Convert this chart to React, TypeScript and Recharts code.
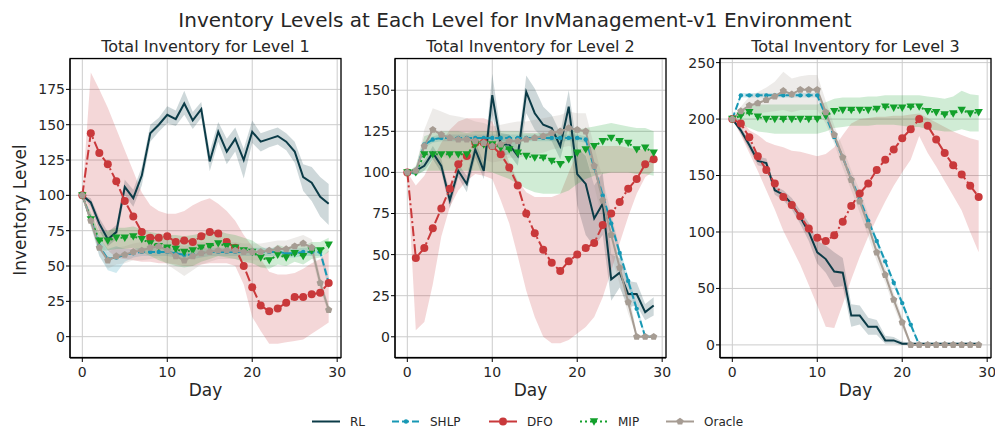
import { ComposedChart, Line, Area, XAxis, YAxis, CartesianGrid } from 'recharts';

const days = [0, 1, 2, 3, 4, 5, 6, 7, 8, 9, 10, 11, 12, 13, 14, 15, 16, 17, 18, 19, 20, 21, 22, 23, 24, 25, 26, 27, 28, 29];
const xTicks = [0, 10, 20, 30];

// Level 1
const rl1 = [100, 95, 80, 69, 74, 106, 98, 114, 144, 150, 157, 154, 165, 153, 161, 124, 145, 131, 140, 125, 145, 138, 140, 142, 138, 131, 113, 109, 99, 94];
const rl1Lo = [100, 92, 75, 64, 69, 100, 92, 107, 138, 145, 151, 149, 157, 147, 155, 117, 138, 122, 131, 112, 137, 131, 134, 136, 132, 123, 103, 96, 85, 79];
const rl1Hi = [100, 98, 84, 74, 79, 111, 104, 120, 150, 155, 163, 160, 174, 159, 166, 131, 152, 140, 148, 133, 153, 144, 146, 148, 144, 138, 122, 120, 113, 108];
const shlp1 = [100, 83, 64, 55, 56, 58, 59, 60, 60, 60, 60, 59, 58, 58, 59, 60, 60, 60, 60, 60, 60, 60, 60, 60, 59, 59, 60, 60, 60, 38];
const shlp1Lo = [100, 80, 57, 47, 45, 53, 56, 57, 57, 57, 57, 56, 55, 55, 56, 57, 57, 57, 57, 57, 57, 57, 57, 57, 56, 56, 57, 57, 57, 34];
const shlp1Hi = [100, 86, 70, 62, 64, 62, 62, 63, 63, 63, 63, 62, 61, 61, 62, 63, 63, 63, 63, 63, 63, 63, 63, 63, 62, 62, 63, 63, 63, 42];
const dfo1 = [100, 144, 130, 122, 110, 96, 85, 74, 70, 70, 71, 67, 68, 67, 71, 74, 73, 67, 63, 50, 35, 22, 18, 20, 24, 28, 28, 30, 31, 38];
const dfo1Lo = [100, 80, 70, 61, 56, 55, 54, 53, 53, 52, 52, 51, 50, 50, 51, 52, 52, 52, 50, 37, 14, 4, -5, -5, -4, -3, -2, 2, 6, 10];
const dfo1Hi = [100, 187, 175, 162, 147, 132, 117, 102, 93, 89, 87, 87, 89, 93, 96, 98, 94, 89, 82, 72, 64, 55, 46, 44, 44, 45, 48, 52, 55, 61];
const mip1 = [100, 83, 68, 68, 70, 70, 71, 69, 66, 64, 63, 62, 60, 61, 63, 64, 66, 64, 63, 61, 60, 56, 54, 58, 56, 59, 57, 61, 61, 65];
const mip1Lo = [100, 78, 61, 61, 62, 62, 63, 60, 57, 54, 52, 50, 49, 50, 53, 55, 57, 56, 55, 53, 52, 49, 48, 51, 50, 53, 51, 55, 56, 60];
const mip1Hi = [100, 88, 74, 75, 77, 77, 78, 76, 74, 73, 72, 72, 71, 72, 73, 74, 75, 73, 72, 70, 68, 64, 61, 65, 63, 65, 64, 67, 67, 70];
const oracle1 = [100, 82, 63, 54, 57, 58, 60, 61, 63, 64, 61, 57, 54, 57, 59, 60, 61, 61, 61, 60, 60, 60, 61, 62, 62, 64, 66, 63, 38, 19];
const oracle1Lo = [100, 78, 57, 48, 51, 52, 54, 54, 55, 56, 51, 47, 43, 47, 51, 53, 55, 55, 55, 54, 54, 54, 55, 56, 56, 58, 60, 57, 33, 16];
const oracle1Hi = [100, 86, 69, 60, 63, 64, 66, 67, 70, 71, 69, 66, 64, 66, 67, 67, 67, 67, 67, 66, 66, 66, 67, 68, 68, 70, 72, 69, 43, 22];

// Level 2
const rl2 = [100, 101, 104, 112, 104, 83, 101, 93, 114, 101, 147, 117, 117, 110, 149, 136, 129, 127, 116, 140, 99, 93, 72, 81, 35, 39, 26, 26, 15, 19];
const rl2Lo = [100, 99, 101, 108, 100, 78, 97, 88, 109, 96, 135, 110, 111, 104, 136, 126, 121, 119, 108, 128, 80, 62, 55, 62, 22, 30, 18, 19, 10, 13];
const rl2Hi = [100, 103, 107, 116, 108, 88, 105, 98, 119, 106, 160, 124, 123, 116, 159, 151, 140, 135, 124, 150, 115, 110, 92, 100, 50, 48, 34, 33, 20, 24];
const shlp2 = [100, 100, 117, 120, 121, 121, 121, 121, 121, 121, 121, 121, 121, 121, 121, 121, 121, 121, 121, 121, 121, 120, 103, 86, 69, 51, 34, 17, 0, 0];
const shlp2Lo = [100, 98, 115, 118, 119, 119, 119, 119, 119, 119, 119, 119, 119, 119, 119, 119, 119, 119, 119, 119, 119, 118, 100, 83, 66, 48, 31, 14, 0, 0];
const shlp2Hi = [100, 102, 119, 122, 123, 123, 123, 123, 123, 123, 123, 123, 123, 123, 123, 123, 123, 123, 123, 123, 123, 122, 106, 89, 72, 54, 37, 20, 2, 0];
const dfo2 = [100, 48, 54, 66, 78, 90, 105, 110, 118, 118, 116, 111, 103, 92, 75, 63, 53, 45, 40, 46, 50, 54, 57, 68, 75, 82, 90, 96, 105, 108];
const dfo2Lo = [100, 4, 9, 32, 61, 79, 89, 95, 99, 98, 96, 83, 69, 49, 28, 12, 0, -4, -4, -2, 2, 6, 12, 24, 40, 57, 73, 87, 97, 101];
const dfo2Hi = [100, 92, 98, 108, 118, 126, 131, 133, 133, 133, 131, 120, 106, 95, 88, 85, 85, 85, 87, 100, 112, 115, 116, 116, 116, 116, 115, 114, 114, 113];
const mip2 = [100, 100, 111, 111, 111, 111, 111, 111, 117, 117, 117, 115, 114, 112, 110, 109, 109, 107, 105, 108, 112, 114, 116, 119, 121, 119, 118, 114, 115, 112];
const mip2Lo = [100, 98, 101, 101, 101, 101, 101, 101, 101, 101, 100, 98, 96, 93, 90, 88, 87, 87, 87, 89, 93, 96, 98, 99, 100, 100, 100, 99, 99, 98];
const mip2Hi = [100, 104, 122, 124, 125, 125, 125, 124, 125, 125, 125, 125, 125, 125, 124, 124, 124, 124, 124, 125, 126, 127, 128, 129, 130, 129, 128, 127, 127, 125];
const oracle2 = [100, 101, 116, 126, 123, 121, 120, 120, 119, 118, 116, 117, 119, 119, 120, 121, 122, 124, 125, 127, 126, 125, 104, 83, 62, 42, 21, 0, 0, 0];
const oracle2Lo = [100, 99, 106, 112, 110, 108, 107, 107, 108, 108, 106, 107, 109, 109, 110, 111, 112, 114, 115, 116, 115, 112, 92, 70, 50, 32, 14, 0, 0, 0];
const oracle2Hi = [100, 103, 126, 139, 137, 135, 134, 133, 131, 130, 128, 129, 130, 131, 131, 132, 133, 134, 135, 137, 136, 136, 116, 96, 75, 54, 30, 2, 0, 0];

// Level 3
const rl3 = [200, 190, 177, 163, 161, 137, 133, 125, 113, 100, 82, 76, 65, 64, 26, 26, 16, 16, 4, 4, 1, 1, 1, 1, 1, 1, 1, 1, 1, 1];
const rl3Lo = [200, 187, 173, 159, 157, 133, 128, 120, 107, 92, 72, 64, 51, 52, 16, 18, 9, 9, 1, 1, 0, 0, 0, 0, 0, 0, 0, 0, 0, 0];
const rl3Hi = [200, 193, 181, 167, 165, 141, 137, 130, 119, 108, 92, 88, 82, 77, 36, 35, 24, 22, 8, 7, 3, 2, 2, 2, 2, 2, 2, 2, 2, 2];
const shlp3 = [200, 221, 221, 221, 221, 221, 221, 221, 221, 221, 221, 203, 184, 166, 147, 129, 110, 92, 74, 55, 37, 18, 0, 0, 0, 0, 0, 0, 0, 0];
const shlp3Lo = [200, 219, 219, 219, 219, 219, 219, 219, 219, 219, 219, 200, 181, 163, 144, 126, 107, 89, 71, 52, 34, 15, 0, 0, 0, 0, 0, 0, 0, 0];
const shlp3Hi = [200, 223, 223, 223, 223, 223, 223, 223, 223, 223, 223, 206, 187, 169, 150, 132, 113, 95, 77, 58, 40, 21, 2, 1, 1, 1, 1, 1, 1, 1];
const dfo3 = [200, 196, 184, 167, 155, 143, 131, 124, 114, 103, 95, 92, 97, 109, 123, 134, 143, 155, 164, 173, 183, 191, 200, 194, 182, 170, 159, 151, 141, 131];
const dfo3Lo = [200, 186, 170, 154, 137, 120, 101, 86, 71, 53, 35, 16, 15, 36, 58, 78, 96, 112, 127, 141, 153, 164, 185, 170, 158, 145, 132, 119, 100, 82];
const dfo3Hi = [200, 200, 190, 186, 180, 177, 175, 172, 171, 169, 167, 169, 175, 186, 196, 200, 201, 202, 202, 203, 203, 204, 205, 201, 197, 193, 189, 186, 183, 181];
const mip3 = [200, 203, 206, 202, 200, 200, 200, 200, 200, 200, 200, 203, 207, 208, 208, 208, 208, 209, 211, 210, 210, 211, 211, 207, 206, 204, 205, 208, 205, 206];
const mip3Lo = [200, 195, 192, 189, 188, 187, 187, 187, 187, 187, 187, 189, 192, 193, 194, 194, 194, 195, 195, 195, 194, 193, 193, 191, 190, 189, 189, 191, 189, 189];
const mip3Hi = [200, 207, 212, 213, 213, 213, 213, 213, 213, 213, 213, 215, 218, 219, 219, 219, 220, 220, 221, 221, 221, 221, 221, 220, 219, 218, 220, 225, 222, 221];
const oracle3 = [200, 207, 212, 214, 217, 220, 225, 222, 226, 226, 226, 206, 186, 166, 146, 127, 106, 82, 62, 40, 20, 0, 0, 0, 0, 0, 0, 0, 0, 0];
const oracle3Lo = [200, 203, 204, 205, 206, 207, 208, 206, 208, 208, 208, 196, 178, 157, 137, 117, 96, 74, 55, 34, 15, 0, 0, 0, 0, 0, 0, 0, 0, 0];
const oracle3Hi = [200, 211, 220, 224, 228, 233, 242, 236, 238, 239, 239, 216, 194, 175, 155, 137, 116, 90, 69, 46, 25, 1, 0, 0, 0, 0, 0, 0, 0, 0];

const SERIES = [
  { key: 'rl', name: 'RL', color: '#0b3b47', dash: undefined, marker: 'none' },
  { key: 'shlp', name: 'SHLP', color: '#1798b4', dash: '7 3', marker: 'dot' },
  { key: 'dfo', name: 'DFO', color: '#c9393b', dash: '10 3 2 3', marker: 'circle' },
  { key: 'mip', name: 'MIP', color: '#12a02b', dash: '2 3', marker: 'tri' },
  { key: 'oracle', name: 'Oracle', color: '#a69c93', dash: undefined, marker: 'pent' },
];

type Trio = [number[], number[], number[]];

const PANELS: { title: string; left: number; domain: [number, number]; ticks: number[]; s: Record<string, Trio> }[] = [
  {
    title: 'Total Inventory for Level 1',
    left: 70,
    domain: [-15.1, 196.5],
    ticks: [0, 25, 50, 75, 100, 125, 150, 175],
    s: {
      rl: [rl1, rl1Lo, rl1Hi], shlp: [shlp1, shlp1Lo, shlp1Hi], dfo: [dfo1, dfo1Lo, dfo1Hi],
      mip: [mip1, mip1Lo, mip1Hi], oracle: [oracle1, oracle1Lo, oracle1Hi],
    },
  },
  {
    title: 'Total Inventory for Level 2',
    left: 395,
    domain: [-12.9, 169],
    ticks: [0, 25, 50, 75, 100, 125, 150],
    s: {
      rl: [rl2, rl2Lo, rl2Hi], shlp: [shlp2, shlp2Lo, shlp2Hi], dfo: [dfo2, dfo2Lo, dfo2Hi],
      mip: [mip2, mip2Lo, mip2Hi], oracle: [oracle2, oracle2Lo, oracle2Hi],
    },
  },
  {
    title: 'Total Inventory for Level 3',
    left: 720,
    domain: [-11.6, 253.2],
    ticks: [0, 50, 100, 150, 200, 250],
    s: {
      rl: [rl3, rl3Lo, rl3Hi], shlp: [shlp3, shlp3Lo, shlp3Hi], dfo: [dfo3, dfo3Lo, dfo3Hi],
      mip: [mip3, mip3Lo, mip3Hi], oracle: [oracle3, oracle3Lo, oracle3Hi],
    },
  },
];

const FONT = '"DejaVu Sans", sans-serif';
const TEXT = '#262626';
const PLOT_TOP = 58.5;
const PLOT_H = 299;
const PLOT_W = 271;
const Y_AXIS_W = 60;
const X_DOMAIN: [number, number] = [-1.45, 30.45];

function markerShape(kind: string, color: string, cx: number, cy: number, key?: string | number) {
  if (kind === 'circle') return <circle key={key} cx={cx} cy={cy} r={4} fill={color} />;
  if (kind === 'dot') return <circle key={key} cx={cx} cy={cy} r={2.2} fill={color} />;
  if (kind === 'tri')
    return <polygon key={key} points={`${cx - 4.2},${cy - 3.2} ${cx + 4.2},${cy - 3.2} ${cx},${cy + 4.2}`} fill={color} />;
  if (kind === 'pent') {
    const pts = [0, 1, 2, 3, 4]
      .map((k) => {
        const a = -Math.PI / 2 + (k * 2 * Math.PI) / 5;
        return `${cx + 3.8 * Math.cos(a)},${cy + 3.8 * Math.sin(a)}`;
      })
      .join(' ');
    return <polygon key={key} points={pts} fill={color} />;
  }
  return <g key={key} />;
}

function dotRenderer(kind: string, color: string) {
  if (kind === 'none') return false;
  return (props: any) => {
    const { cx, cy, index } = props;
    if (cx == null || cy == null) return <g key={index} />;
    return markerShape(kind, color, cx, cy, index);
  };
}

function Panel({ panel }: { panel: (typeof PANELS)[number] }) {
  const data = days.map((d, i) => {
    const row: Record<string, any> = { day: d };
    SERIES.forEach((s) => {
      const [mean, lo, hi] = panel.s[s.key];
      row[s.key] = mean[i];
      row[s.key + 'Band'] = [lo[i], hi[i]];
    });
    return row;
  });

  return (
    <div style={{ position: 'absolute', left: panel.left - Y_AXIS_W, top: PLOT_TOP - 10 }}>
      <ComposedChart
        width={Y_AXIS_W + PLOT_W + 10}
        height={10 + PLOT_H + 30}
        data={data}
        margin={{ top: 10, right: 10, bottom: 0, left: 0 }}
      >
        <CartesianGrid stroke="#cccccc" strokeWidth={1} />
        <XAxis
          dataKey="day"
          type="number"
          domain={X_DOMAIN}
          ticks={xTicks}
          interval={0}
          allowDataOverflow
          height={30}
          tickSize={4}
          tickMargin={5}
          axisLine={{ stroke: '#000' }}
          tickLine={{ stroke: '#000' }}
          tick={{ fontSize: 14, fill: TEXT, fontFamily: FONT }}
        />
        <YAxis
          type="number"
          domain={panel.domain}
          ticks={panel.ticks}
          interval={0}
          allowDataOverflow
          width={Y_AXIS_W}
          tickSize={4}
          tickMargin={1}
          axisLine={{ stroke: '#000' }}
          tickLine={{ stroke: '#000' }}
          tick={{ fontSize: 14, fill: TEXT, fontFamily: FONT }}
        />
        {SERIES.map((s) => (
          <Area
            key={s.key + 'Band'}
            type="linear"
            dataKey={s.key + 'Band'}
            stroke="none"
            fill={s.color}
            fillOpacity={0.2}
            isAnimationActive={false}
            dot={false}
            activeDot={false}
          />
        ))}
        {SERIES.map((s) => (
          <Line
            key={s.key}
            type="linear"
            dataKey={s.key}
            stroke={s.color}
            strokeWidth={2}
            strokeDasharray={s.dash}
            dot={dotRenderer(s.marker, s.color) as any}
            activeDot={false}
            isAnimationActive={false}
          />
        ))}
      </ComposedChart>
    </div>
  );
}

function Legend() {
  const starts = [312, 392, 489, 580, 666];
  const cy = 421.5;
  return (
    <g>
      {SERIES.map((s, i) => {
        const x = starts[i];
        return (
          <g key={s.key}>
            <line x1={x} x2={x + 28} y1={cy} y2={cy} stroke={s.color} strokeWidth={2} strokeDasharray={s.dash} />
            {markerShape(s.marker, s.color, x + 14, cy)}
            <text x={x + 38} y={cy + 4.3} fontSize={12} fill={TEXT} fontFamily={FONT}>
              {s.name}
            </text>
          </g>
        );
      })}
    </g>
  );
}

export default function App() {
  return (
    <div style={{ position: 'absolute', left: 0, top: 0, width: 995, height: 431, background: '#fff', fontFamily: FONT }}>
      {PANELS.map((p) => (
        <Panel key={p.title} panel={p} />
      ))}
      <svg width={995} height={431} style={{ position: 'absolute', left: 0, top: 0, pointerEvents: 'none' }}>
        <text x={515} y={27} textAnchor="middle" fontSize={20} fill={TEXT} fontFamily={FONT}>
          Inventory Levels at Each Level for InvManagement-v1 Environment
        </text>
        {PANELS.map((p) => (
          <g key={p.title}>
            <rect x={p.left} y={PLOT_TOP} width={PLOT_W} height={PLOT_H} fill="none" stroke="#000" strokeWidth={1.25} />
            <text x={p.left + PLOT_W / 2} y={52} textAnchor="middle" fontSize={16} fill={TEXT} fontFamily={FONT}>
              {p.title}
            </text>
            <text x={p.left + PLOT_W / 2} y={396} textAnchor="middle" fontSize={17} fill={TEXT} fontFamily={FONT}>
              Day
            </text>
          </g>
        ))}
        <text
          x={26}
          y={210}
          textAnchor="middle"
          fontSize={17}
          fill={TEXT}
          fontFamily={FONT}
          transform="rotate(-90 26 210)"
        >
          Inventory Level
        </text>
        <Legend />
      </svg>
    </div>
  );
}
